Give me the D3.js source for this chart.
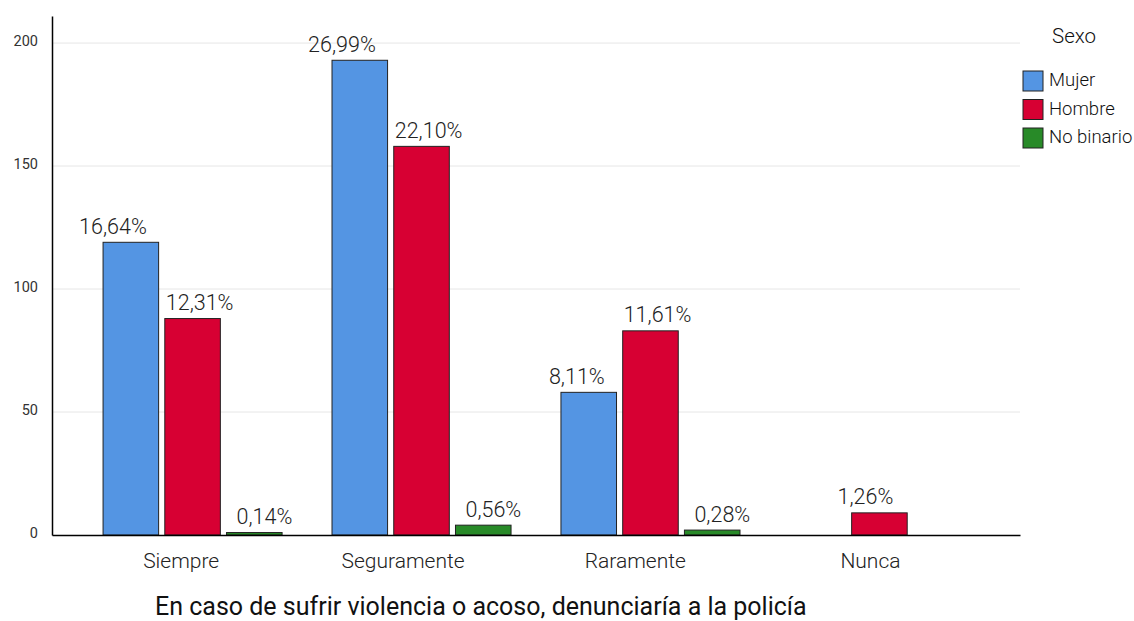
<!DOCTYPE html>
<html>
<head>
<meta charset="utf-8">
<script src="https://cdn.jsdelivr.net/npm/d3@7"></script>
<style>
  html, body { margin: 0; padding: 0; background: #fff; }
  svg { display: block; font-family: Roboto, "Noto Sans", sans-serif; }
</style>
</head>
<body>
<svg id="chart" width="1134" height="621"></svg>
<script>
// ---- data ----
const categories = ["Siempre", "Seguramente", "Raramente", "Nunca"];
const seriesNames = ["Mujer", "Hombre", "No binario"];
const mujer     = [119, 193, 58, 0];
const hombre    = [88, 158, 83, 9];
const noBinario = [1, 4, 2, 0];
const mujerPct     = ["16,64%", "26,99%", "8,11%", ""];
const hombrePct    = ["12,31%", "22,10%", "11,61%", "1,26%"];
const noBinarioPct = ["0,14%", "0,56%", "0,28%", ""];
const yTicks = [0, 50, 100, 150, 200];
const titleText = "En caso de sufrir violencia o acoso, denunciaría a la policía";
const legendTitle = "Sexo";

const colors = ["#5495e3", "#d70033", "#288a28"];
const seriesValues = [mujer, hombre, noBinario];
const seriesPct = [mujerPct, hombrePct, noBinarioPct];

// ---- layout ----
const W = 1134, H = 621;
const margin = {left: 52, right: 114, top: 16, bottom: 86};
const svg = d3.select("#chart");

const x0 = d3.scaleBand().domain(categories)
  .range([margin.left, W - margin.right]).paddingInner(0.218).paddingOuter(0.223);
const x1 = d3.scaleBand().domain(seriesNames)
  .range([0, x0.bandwidth()]).paddingInner(0.1);
const y = d3.scaleLinear().domain([0, 211]).range([H - margin.bottom, margin.top]);

// gridlines
svg.append("g").selectAll("line").data(yTicks.filter(d => d > 0)).join("line")
  .attr("x1", margin.left).attr("x2", W - margin.right)
  .attr("y1", d => y(d)).attr("y2", d => y(d))
  .attr("stroke", "#e6e6e6").attr("stroke-width", 1);

// y axis
const yAxis = svg.append("g").attr("transform", `translate(${margin.left},0)`)
  .call(d3.axisLeft(y).tickValues(yTicks).tickSize(0).tickPadding(14).tickFormat(d3.format("d")));
yAxis.select(".domain").attr("stroke", "#000").attr("stroke-width", 1.5);
yAxis.selectAll("text").attr("font-size", 14.5).attr("fill", "#333")
  .attr("font-family", "Roboto, sans-serif").attr("dy", "0.2em");

// bars data
const barData = [];
categories.forEach((c, ci) => {
  seriesNames.forEach((s, si) => {
    barData.push({cat: c, ci, s, si, v: seriesValues[si][ci], pct: seriesPct[si][ci]});
  });
});
const shown = barData.filter(d => d.v > 0);

svg.append("g").selectAll("rect").data(shown).join("rect")
  .attr("x", d => x0(d.cat) + x1(d.s))
  .attr("y", d => y(d.v))
  .attr("width", x1.bandwidth())
  .attr("height", d => y(0) - y(d.v))
  .attr("fill", d => colors[d.si])
  .attr("stroke", "#222").attr("stroke-width", 1);

// x axis line
const xAxis = svg.append("g").attr("transform", `translate(0,${y(0)})`)
  .call(d3.axisBottom(x0).tickSize(0).tickPadding(18));
xAxis.select(".domain").attr("stroke", "#000").attr("stroke-width", 1.5);
xAxis.selectAll("text").attr("font-size", 21).attr("fill", "#222")
  .attr("font-family", "Roboto, sans-serif").attr("font-weight", 300)
  .attr("dx", function() { return -0.15 * this.getComputedTextLength(); });

// value labels
const lbl = svg.append("g").selectAll("text").data(shown).join("text")
  .attr("font-size", 21.5).attr("font-weight", 300).attr("fill", "#222")
  .attr("y", d => y(d.v) - 8.5)
  .text(d => d.pct);
lbl.each(function(d) {
  const bx = x0(d.cat) + x1(d.s), bw = x1.bandwidth();
  const others = seriesValues.filter((arr, i) => i !== d.si).map(a => a[d.ci]);
  const el = d3.select(this);
  if (others.every(v => v === 0)) {
    el.attr("text-anchor", "middle").attr("x", bx + bw / 2 - 0.25 * this.getComputedTextLength());
  } else if (d.si === 0) {
    el.attr("text-anchor", "end").attr("x", bx + bw / 2 + 16);
  } else if (d.si === 1) {
    el.attr("text-anchor", "start").attr("x", bx + 1);
  } else {
    el.attr("text-anchor", "start").attr("x", bx + 10);
  }
});

// title
svg.append("text").attr("x", margin.left + 103).attr("y", 615)
  .attr("font-size", 25).attr("font-weight", 400).attr("fill", "#111")
  .text(titleText);

// legend
const lg = svg.append("g").attr("transform", `translate(${W - margin.right + 3},0)`);
lg.append("text").attr("x", 29).attr("y", 43).attr("font-size", 20.5)
  .attr("font-weight", 300).attr("fill", "#111").text(legendTitle);
const items = lg.selectAll("g.item").data(seriesNames).join("g").attr("class", "item")
  .attr("transform", (d, i) => `translate(0,${71 + i * 28.5})`);
items.append("rect").attr("width", 20).attr("height", 20)
  .attr("fill", (d, i) => colors[i]).attr("stroke", "#222").attr("stroke-width", 1);
items.append("text").attr("x", 26).attr("y", 15).attr("font-size", 18.5)
  .attr("font-weight", 300).attr("fill", "#111").text(d => d);
</script>
</body>
</html>
